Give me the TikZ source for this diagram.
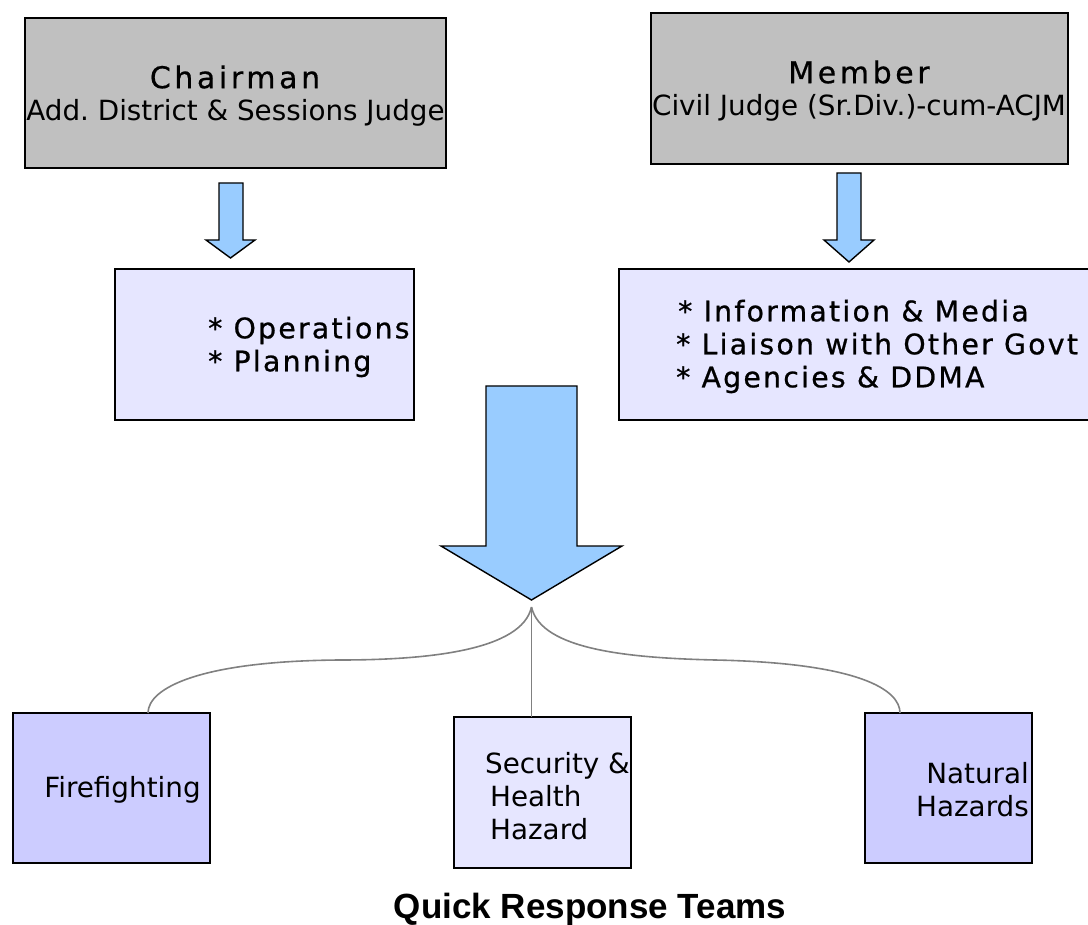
\documentclass[tikz,border=0pt]{standalone}
\usepackage{fontspec}
\setmainfont{DejaVu Sans}
\newfontfamily\headf[LetterSpace=12,FakeBold=0.6]{DejaVu Sans}
\newfontfamily\listf[LetterSpace=8,FakeBold=0.8]{DejaVu Sans}
\newfontfamily\qrtf{Liberation Sans}
\frenchspacing
\definecolor{boxgray}{HTML}{C0C0C0}
\definecolor{lightlav}{HTML}{E6E6FF}
\definecolor{midlav}{HTML}{CCCCFF}
\definecolor{arrowblue}{HTML}{99CCFF}
\definecolor{linkgray}{HTML}{808080}
\tikzset{
  box/.style={draw=black, line width=1.6pt, rectangle, inner sep=0pt, outer sep=0pt},
  graybox/.style={box, fill=boxgray},
  lightbox/.style={box, fill=lightlav},
  midbox/.style={box, fill=midlav},
  blockarrow/.style={draw=black, line width=1.4pt, fill=arrowblue, line join=miter},
  link/.style={draw=linkgray, line width=1.6pt},
  headtxt/.style={font=\headf\fontsize{30}{34}\selectfont, inner sep=0pt},
  subtxt/.style={font=\fontsize{27.8}{33}\selectfont, inner sep=0pt},
  listtxt/.style={font=\listf\fontsize{28.3}{33}\selectfont, align=left, inner sep=0pt},
  teamtxt/.style={font=\fontsize{27.8}{33}\selectfont, inner sep=0pt},
}
\begin{document}
\begin{tikzpicture}[x=1pt,y=-1pt]
\clip (0,0) rectangle (1088,925);
\useasboundingbox (0,0) rectangle (1088,925);

% top boxes
\node[graybox, minimum width=421pt, minimum height=150pt] (chair) at (235.5,93) {};
\node[headtxt] (chairT) at (235,77) {Chairman};
\node[subtxt] (chairS) at (235.5,113) {\frenchspacing Add. District \& Sessions Judge};

\node[graybox, minimum width=417pt, minimum height=151pt] (member) at (859.5,88.5) {};
\node[headtxt] (memberT) at (859,72) {Member};
\node[subtxt] (memberS) at (859,108) {\frenchspacing Civil Judge (Sr.Div.)-cum-ACJM};

% small block arrows
\draw[blockarrow] (219,183) -- (243,183) -- (243,240) -- (255,240) -- (230.5,258) -- (206,240) -- (219,240) -- cycle;
\draw[blockarrow] (837,173) -- (861,173) -- (861,240) -- (874,240) -- (849,262) -- (824,240) -- (837,240) -- cycle;

% middle boxes
\node[lightbox, minimum width=299pt, minimum height=151pt] (ops) at (264.5,344.5) {};
\node[listtxt, anchor=west] (opsT) at (208,347) {* Operations\\* Planning};

\node[lightbox, minimum width=476pt, minimum height=151pt] (info) at (857,344.5) {};
\node[listtxt, anchor=west] (infoT) at (676,346.5) {\hspace*{2pt}* Information \& Media\\* Liaison with Other Govt\\* Agencies \& DDMA};

% big arrow
\draw[blockarrow] (486,386) -- (577,386) -- (577,546) -- (622,546) -- (531.5,600) -- (441,546) -- (486,546) -- cycle;
\coordinate (split) at (531.5,607);

% team boxes
\node[midbox, minimum width=197pt, minimum height=150pt] (fire) at (111.5,788) {};
\node[teamtxt] (fireT) at (122.5,790) {Firefighting};

\node[lightbox, minimum width=177pt, minimum height=151pt] (sec) at (542.5,792.5) {};
\node[teamtxt, anchor=west, align=left] (secT) at (485,796) {Security \&\\\hspace*{5pt}Health\\\hspace*{5pt}Hazard};

\node[midbox, minimum width=167pt, minimum height=150pt] (nat) at (948.5,788) {};
\node[teamtxt, anchor=east, align=right] (natT) at (1029,790) {Natural\\Hazards};

% connectors
\draw[link] (split) .. controls (522,650) and (430,660) .. (340,660)
            .. controls (200,661) and (148,688) .. ([xshift=36.5pt]fire.north);
\draw[link] (split) -- (sec.north -| split);
\draw[link] (split) .. controls (541,650) and (630,658) .. (715,660)
            .. controls (860,663) and (900,690) .. ([xshift=-48.5pt]nat.north);

\node[font=\qrtf\bfseries\fontsize{35}{40}\selectfont, inner sep=0pt] (caption) at (590,909) {Quick Response Teams};
\end{tikzpicture}
\end{document}
